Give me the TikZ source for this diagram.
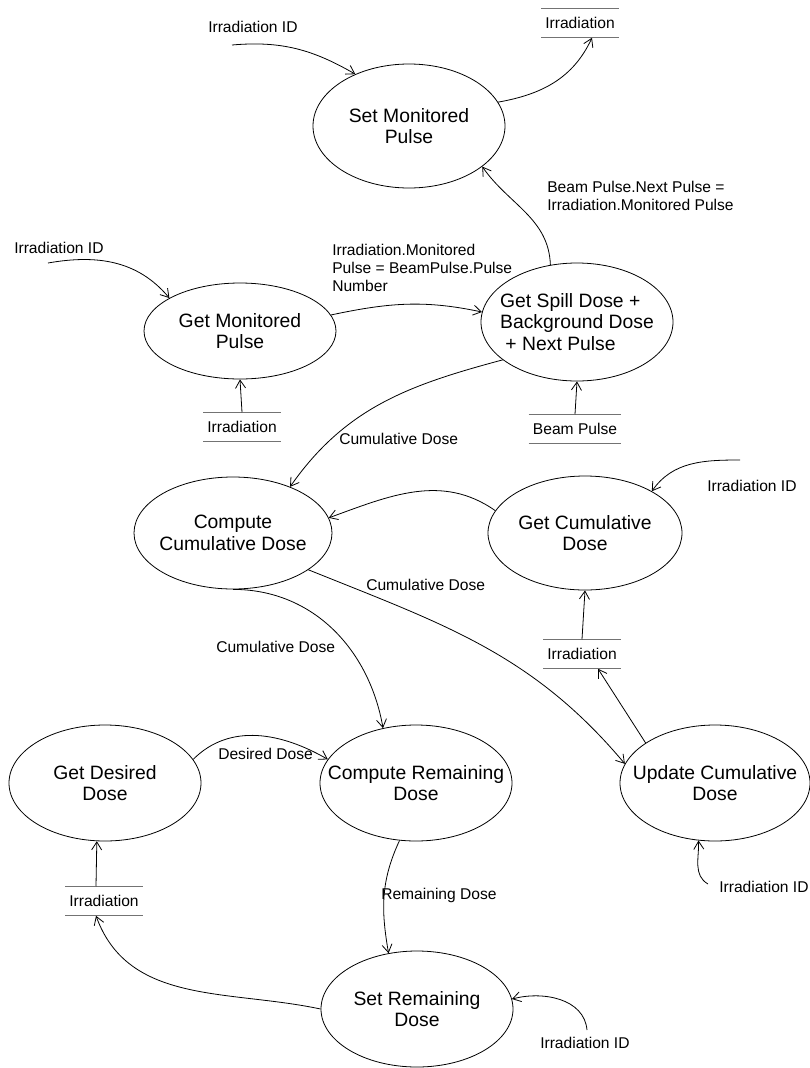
\documentclass[tikz,border=0pt]{standalone}
\usepackage{fontspec}
\setmainfont{Liberation Sans}
\usetikzlibrary{shapes.geometric}
\usetikzlibrary{arrows.meta}

\begin{document}
\begin{tikzpicture}[x=0.75pt, y=-0.75pt]

          \tikzstyle{processNode} = [draw, ellipse, line width=0.6pt, inner xsep=-40pt, inner ysep=-30pt, minimum width=144pt, minimum height=87pt, align=center, font=\fontsize{14.5}{16}\selectfont];
          \tikzstyle{labelNode} = [anchor=west, inner sep=0pt, align=left, font=\fontsize{11.7}{13.5}\selectfont];
          \tikzstyle{storeLine} = [draw, black!55, line width=1pt];
          \tikzstyle{storeNode} = [inner xsep=3pt, inner ysep=0pt, minimum height=21.75pt, font=\fontsize{11.7}{13.5}\selectfont,
            append after command={(\tikzlastnode.north west) edge[storeLine] (\tikzlastnode.north east)
                                  (\tikzlastnode.south west) edge[storeLine] (\tikzlastnode.south east)}];
          \tikzstyle{flowEdge} = [line width=0.6pt, -{Straight Barb[length=6pt,width=7.5pt]}];

          \useasboundingbox (0,0) rectangle (810,1068);

          % processes
          \node[processNode, minimum height=93pt] (setMon) at (409,126) {Set Monitored\\Pulse};
          \node[processNode, minimum height=72pt] (getMon) at (240,331) {Get Monitored\\Pulse};
          \node[processNode, minimum height=88.5pt, align=left] (getSpill) at (577,322) {Get Spill Dose +\\Background Dose\\\hspace*{4pt}+ Next Pulse};
          \node[processNode, minimum width=148.5pt, minimum height=84pt] (compCum) at (233,533) {Compute\\Cumulative Dose};
          \node[processNode, minimum width=145.5pt, minimum height=85.5pt] (getCum) at (585,533) {Get Cumulative\\Dose};
          \node[processNode] (getDes) at (105,783) {Get Desired\\Dose};
          \node[processNode] (compRem) at (416,783) {Compute Remaining\\Dose};
          \node[processNode, minimum width=142.5pt] (updCum) at (715,783) {Update Cumulative\\Dose};
          \node[processNode] (setRem) at (417,1009) {Set Remaining\\Dose};

          % data stores
          \node[storeNode] (stTop) at (580,23) {Irradiation};
          \node[storeNode] (stMon) at (242,427) {Irradiation};
          \node[storeNode] (stBeam) at (575,429) {Beam Pulse};
          \node[storeNode] (stCum) at (582,654) {Irradiation};
          \node[storeNode] (stDes) at (104,901) {Irradiation};

          % outside inputs and flow labels
          \node[labelNode] (idTop) at (208,27) {Irradiation ID};
          \node[labelNode] (idMon) at (14,248) {Irradiation ID};
          \node[labelNode] (idCum) at (707,486) {Irradiation ID};
          \node[labelNode] (idUpd) at (719,887) {Irradiation ID};
          \node[labelNode] (idRem) at (540,1043) {Irradiation ID};
          \node[labelNode, anchor=north west] (lblMonPulse) at (332,244) {Irradiation.Monitored\\Pulse = BeamPulse.Pulse\\Number};
          \node[labelNode, anchor=north west] (lblNextPulse) at (547,181) {Beam Pulse.Next Pulse =\\Irradiation.Monitored Pulse};
          \node[labelNode] (lblCumA) at (339,439) {Cumulative Dose};
          \node[labelNode] (lblCumB) at (366,585) {Cumulative Dose};
          \node[labelNode] (lblCumC) at (216,647) {Cumulative Dose};
          \node[labelNode] (lblDes) at (218,754) {Desired Dose};
          \node[labelNode] (lblRem) at (381,895) {Remaining Dose};

          \coordinate (idTopStart) at (232,45);
          \coordinate (idMonStart) at (48,263);
          \coordinate (idCumStart) at (740,460);
          \coordinate (idUpdStart) at (708,884);
          \coordinate (idRemStart) at (587,1030);

          % flows
          \draw[flowEdge] (idTopStart) to[out=5, in=150] (setMon.136);
          \draw[flowEdge] (setMon.15) to[out=10, in=-115] ([xshift=9pt]stTop.south);
          \draw[flowEdge] (idMonStart) to[out=10, in=130] (getMon.155);
          \draw[flowEdge] (getMon.10) to[out=12, in=168] (getSpill.174);
          \draw[flowEdge] (getSpill.115) to[out=92, in=-55] (setMon.-29);
          \draw[flowEdge] (stBeam.north) -- (getSpill.south);
          \draw[flowEdge] (stMon.north) -- (getMon.south);
          \draw[flowEdge] (getSpill.207) to[out=195, in=55] (compCum.39);
          \draw[flowEdge] (getCum.166) to[out=145, in=20] (compCum.9);
          \draw[flowEdge] (idCumStart) to[out=180, in=55] (getCum.32);
          \draw[flowEdge] (stCum.north) -- (getCum.south);
          \draw[flowEdge] (compCum.-26) to[out=-22, in=130] (updCum.168);
          \draw[flowEdge] (updCum.150) -- ([xshift=12pt]stCum.south);
          \draw[flowEdge] (compCum.south) to[out=0, in=100] (compRem.121);
          \draw[flowEdge] (getDes.15) to[out=45, in=150] (compRem.165);
          \draw[flowEdge] ([xshift=-6pt]stDes.north) -- (getDes.262);
          \draw[flowEdge] (compRem.-106) to[out=-115, in=100] (setRem.117);
          \draw[flowEdge] (setRem.180) to[out=168, in=-70] ([xshift=-6pt]stDes.south);
          \draw[flowEdge] (idRemStart) to[out=95, in=15] (setRem.6);
          \draw[flowEdge] (idUpdStart) to[out=150, in=-88] (updCum.-106);
        \end{tikzpicture}
\end{document}
